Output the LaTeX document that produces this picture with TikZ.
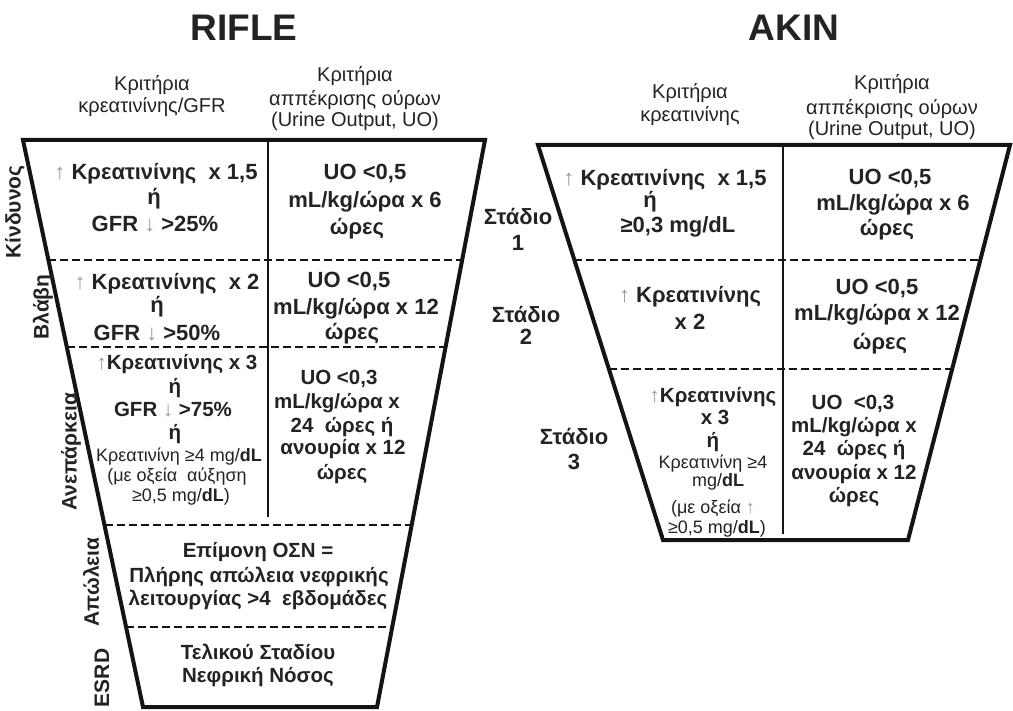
\documentclass[tikz,border=0pt]{standalone}
\usepackage{fontspec}
\setmainfont{Liberation Sans}
\definecolor{tc}{HTML}{232323}
\definecolor{lc}{HTML}{141414}
\definecolor{ag}{HTML}{9A9A9A}
\newcommand\UpA{{\color{ag}\mdseries ↑}}
\newcommand\DnA{{\color{ag}\mdseries ↓}}
\begin{document}
\begin{tikzpicture}[x=1pt,y=-1pt,
  outl/.style={draw=lc,line width=4pt,line join=miter},
  divl/.style={draw=lc,line width=2.5pt},
  dsh/.style={draw=lc,line width=2.5pt,dash pattern=on 8pt off 4pt},
  lb/.style={anchor=base,inner sep=0pt,text=tc,font=\bfseries\fontsize{22}{24}\selectfont},
  lm/.style={anchor=base,inner sep=0pt,text=tc,font=\bfseries\fontsize{20.5}{23}\selectfont},
  sm/.style={anchor=base,inner sep=0pt,text=tc,font=\fontsize{18}{20}\selectfont},
  hd/.style={anchor=base,inner sep=0pt,text=tc,font=\fontsize{20}{22}\selectfont},
  rot/.style={anchor=center,inner sep=0pt,text=tc,rotate=90,font=\bfseries\fontsize{21}{23}\selectfont},
  ttl/.style={anchor=center,inner sep=0pt,text=tc,font=\bfseries\fontsize{37}{40}\selectfont}]
\useasboundingbox (0,0) rectangle (1013,711);
\fill[white] (0,0) rectangle (1013,711);
% ---------- RIFLE ----------
\coordinate (rtl) at (23,140);
\coordinate (rtr) at (485,140);
\coordinate (rbr) at (377,707);
\coordinate (rbl) at (143,707);
\draw[outl] (rtl) -- (rtr) -- (rbr) -- (rbl) -- cycle;
\coordinate (rd1) at (268,140);
\coordinate (rd2) at (268,517);
\draw[divl] (rd1) -- (rd2);
\coordinate (rl1) at (48,260);  \coordinate (rr1) at (462,260);
\coordinate (rl2) at (67,347);  \coordinate (rr2) at (446,347);
\coordinate (rl3) at (105,525); \coordinate (rr3) at (412,525);
\coordinate (rl4) at (126,627); \coordinate (rr4) at (392,627);
\draw[dsh] (rl1) -- (rr1);
\draw[dsh] (rl2) -- (rr2);
\draw[dsh] (rl3) -- (rr3);
\draw[dsh] (rl4) -- (rr4);
\node[ttl] (rifle) at (244,28) {RIFLE};
\node[hd] (rh1a) at (152,91) {Κριτήρια};
\node[hd] (rh1b) at (152,113) {κρεατινίνης/GFR};
\node[hd] (rh2a) at (355,82) {Κριτήρια};
\node[hd] (rh2b) at (355,106) {αππέκρισης ούρων};
\node[hd] (rh2c) at (355,127) {(Urine Output, UO)};
% row 1
\node[lb] (r1a) at (156,180) {\UpA{} Κρεατινίνης\ \ x 1,5};
\node[lb] (r1b) at (154,205) {ή};
\node[lb] (r1c) at (155,232) {GFR \DnA{} >25\%};
\node[lb] (r1d) at (365,180) {UO <0,5};
\node[lb] (r1e) at (365,208) {mL/kg/ώρα x 6};
\node[lb] (r1f) at (357,235) {ώρες};
% row 2
\node[lb] (r2a) at (167,290) {\UpA{} Κρεατινίνης\ \ x 2};
\node[lb] (r2b) at (157,313) {ή};
\node[lb] (r2c) at (157,341) {GFR \DnA{} >50\%};
\node[lb] (r2d) at (349,288) {UO <0,5};
\node[lb] (r2e) at (356,315) {mL/kg/ώρα x 12};
\node[lb] (r2f) at (352,340) {ώρες};
% row 3
\node[lm] (r3a) at (177,370) {\UpA{}Κρεατινίνης x 3};
\node[lm] (r3b) at (175,394) {ή};
\node[lm] (r3c) at (173,417) {GFR \DnA{} >75\%};
\node[lm] (r3d) at (175,440) {ή};
\node[sm] (r3e) at (179,461.5) {Κρεατινίνη ≥4 mg/\textbf{dL}};
\node[sm] (r3f) at (177,481.5) {(με οξεία\ \ αύξηση};
\node[sm] (r3g) at (181,501.5) {≥0,5 mg/\textbf{dL})};
\node[lm] (r3h) at (339,385) {UO <0,3};
\node[lm] (r3i) at (337,409) {mL/kg/ώρα x};
\node[lm] (r3j) at (342,432) {24\ \ ώρες ή};
\node[lm] (r3k) at (343,454) {ανουρία x 12};
\node[lm] (r3l) at (342,479) {ώρες};
% row 4, 5
\node[lm] (r4a) at (258,557) {Επίμονη ΟΣΝ =};
\node[lm] (r4b) at (259,582) {Πλήρης απώλεια νεφρικής};
\node[lm] (r4c) at (258,605) {λειτουργίας >4\ \ εβδομάδες};
\node[lm] (r5a) at (258,659) {Τελικού Σταδίου};
\node[lm] (r5b) at (258,682) {Νεφρική Νόσος};
% side labels
\node[rot] (s1) at (15,212) {Κίνδυνος};
\node[rot] (s2) at (43,307) {Βλάβη};
\node[rot] (s3) at (71,452) {Ανεπάρκεια};
\node[rot] (s4) at (91,582) {Απώλεια};
\node[rot] (s5) at (102,678) {ESRD};
% ---------- AKIN ----------
\coordinate (atl) at (538,145);
\coordinate (atr) at (1010,145);
\coordinate (abr) at (908,540);
\coordinate (abl) at (663,540);
\draw[outl] (atl) -- (atr) -- (abr) -- (abl) -- cycle;
\coordinate (ad1) at (783,145);
\coordinate (ad2) at (783,534);
\draw[divl] (ad1) -- (ad2);
\coordinate (al1) at (574,260); \coordinate (ar1) at (980,260);
\coordinate (al2) at (609,369); \coordinate (ar2) at (952,369);
\draw[dsh] (al1) -- (ar1);
\draw[dsh] (al2) -- (ar2);
\node[ttl] (akin) at (794,28) {AKIN};
\node[hd] (ah1a) at (690,99) {Κριτήρια};
\node[hd] (ah1b) at (690,122) {κρεατινίνης};
\node[hd] (ah2a) at (892,90) {Κριτήρια};
\node[hd] (ah2b) at (892,115) {αππέκρισης ούρων};
\node[hd] (ah2c) at (892,136) {(Urine Output, UO)};
% row 1
\node[lb] (a1a) at (665,186) {\UpA{} Κρεατινίνης\ \ x 1,5};
\node[lb] (a1b) at (650,208) {ή};
\node[lb] (a1c) at (678,233) {≥0,3 mg/dL};
\node[lb] (a1d) at (890,185) {UO <0,5};
\node[lb] (a1e) at (893,211) {mL/kg/ώρα x 6};
\node[lb] (a1f) at (887,236) {ώρες};
% row 2
\node[lb] (a2a) at (690,303) {\UpA{} Κρεατινίνης};
\node[lb] (a2b) at (690,330) {x 2};
\node[lb] (a2c) at (877,295) {UO <0,5};
\node[lb] (a2d) at (877,321) {mL/kg/ώρα x 12};
\node[lb] (a2e) at (880,350) {ώρες};
% row 3
\node[lm] (a3a) at (713,402.5) {\UpA{}Κρεατινίνης};
\node[lm] (a3b) at (715,424.5) {x 3};
\node[lm] (a3c) at (713,447.5) {ή};
\node[sm] (a3d) at (713,468.5) {Κρεατινίνη ≥4};
\node[sm] (a3e) at (718,486.5) {mg/\textbf{dL}};
\node[sm] (a3f) at (713,513.5) {(με οξεία \UpA};
\node[sm] (a3g) at (717,533) {≥0,5 mg/\textbf{dL})};
\node[lm] (a3h) at (853,409.5) {UO\ \ <0,3};
\node[lm] (a3i) at (854,432.5) {mL/kg/ώρα x};
\node[lm] (a3j) at (854,455.5) {24\ \ ώρες ή};
\node[lm] (a3k) at (854,479.5) {ανουρία x 12};
\node[lm] (a3l) at (854,502.5) {ώρες};
% stage labels
\node[lb] (st1) at (518,225) {Στάδιο};
\node[lb] (st1n) at (518,251) {1};
\node[lb] (st2) at (526,323) {Στάδιο};
\node[lb] (st2n) at (526,345) {2};
\node[lb] (st3) at (574,445) {Στάδιο};
\node[lb] (st3n) at (574,470) {3};
\end{tikzpicture}
\end{document}
